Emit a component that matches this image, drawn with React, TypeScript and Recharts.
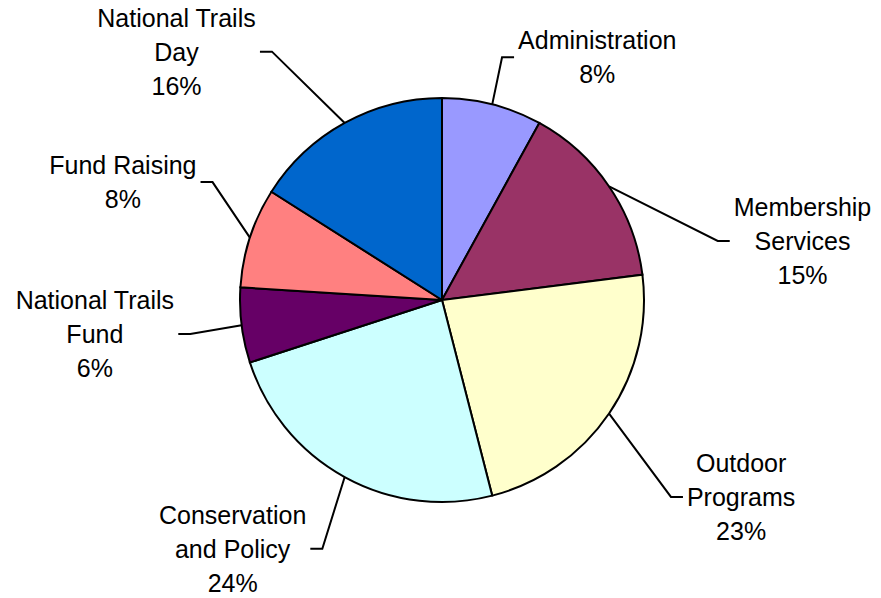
import { PieChart, Pie, Cell } from 'recharts';

const categories = [
  'Administration',
  'Membership\nServices',
  'Outdoor\nPrograms',
  'Conservation\nand Policy',
  'National Trails\nFund',
  'Fund Raising',
  'National Trails\nDay',
];
const shares = [8, 15, 23, 24, 6, 8, 16];
const colors = ['#9999FF', '#993366', '#FFFFCC', '#CCFFFF', '#660066', '#FF8080', '#0066CC'];

// where each leader line bends: clock angle (deg from 12 o'clock) and distance from centre
const elbows = [
  { clock: 13.9, r: 250 },
  { clock: 77.9, r: 282 },
  { clock: 130.7, r: 302 },
  { clock: 205.7, r: 276 },
  { clock: 262.3, r: 254 },
  { clock: 297.2, r: 258 },
  { clock: 325.6, r: 301 },
];

const FONT_SIZE = 25;
const LINE_H = 34;
const FONT = '"Liberation Sans", Arial, sans-serif';
const RAD = Math.PI / 180;

let ctx: CanvasRenderingContext2D | null = null;
function textWidth(s: string) {
  if (!ctx) ctx = document.createElement('canvas').getContext('2d');
  if (!ctx) return s.length * FONT_SIZE * 0.5;
  ctx.font = `${FONT_SIZE}px "Liberation Sans", Arial, sans-serif`;
  return ctx.measureText(s).width;
}

const data = categories.map((name, i) => ({ name, value: shares[i] }));

function renderLabel(props: any) {
  const { cx, cy, midAngle, outerRadius, index } = props;
  const sx = cx + outerRadius * Math.cos(-midAngle * RAD);
  const sy = cy + outerRadius * Math.sin(-midAngle * RAD);
  const e = elbows[index];
  const a = (90 - e.clock) * RAD;
  const ex = cx + e.r * Math.cos(-a);
  const ey = cy + e.r * Math.sin(-a);
  const right = ex > cx;
  const hx = ex + (right ? 12 : -12);

  const lines = [...categories[index].split('\n'), `${shares[index]}%`];
  const maxW = Math.max(...lines.map(textWidth));
  const tx = hx + (right ? 1 : -1) * (4 + maxW / 2);

  return (
    <g key={`lbl-${index}`}>
      <polyline
        points={`${sx},${sy} ${ex},${ey} ${hx},${ey}`}
        fill="none"
        stroke="#000"
        strokeWidth={2}
      />
      {lines.map((ln, i) => (
        <text
          key={i}
          x={tx}
          y={ey + (i - (lines.length - 1) / 2) * LINE_H + 9}
          textAnchor="middle"
          fill="#000"
          fontSize={FONT_SIZE}
          fontFamily={FONT}
        >
          {ln}
        </text>
      ))}
    </g>
  );
}

export default function App() {
  return (
    <div style={{ position: 'absolute', left: 0, top: 0, background: '#fff' }}>
      <PieChart width={881} height={598} margin={{ top: 0, right: 0, bottom: 0, left: 0 }}>
        <Pie
          data={data}
          dataKey="value"
          cx={442}
          cy={300}
          outerRadius={202}
          startAngle={90}
          endAngle={-270}
          stroke="#000"
          strokeWidth={2}
          label={renderLabel}
          labelLine={false}
          isAnimationActive={false}
        >
          {data.map((d, i) => (
            <Cell key={`cell-${i}`} fill={colors[i]} />
          ))}
        </Pie>
      </PieChart>
    </div>
  );
}
